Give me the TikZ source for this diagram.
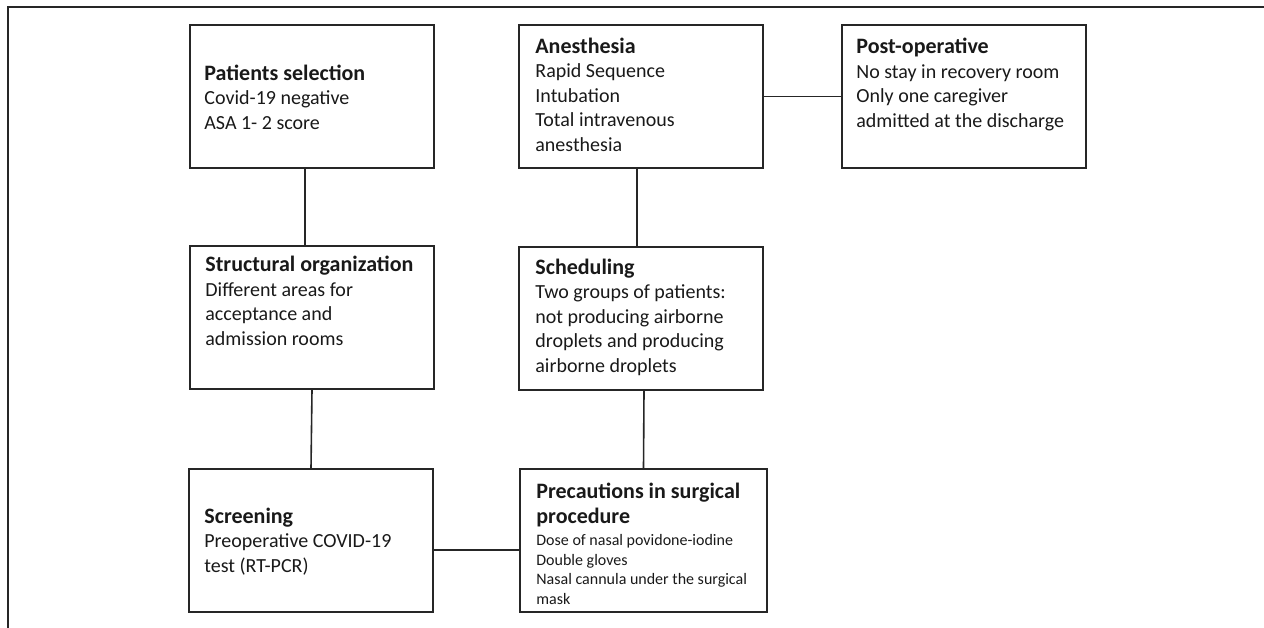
\documentclass[tikz,border=0pt]{standalone}
\usepackage{fontspec}
\setmainfont{Carlito}
\usetikzlibrary{positioning}
\tikzset{
  box/.style={draw=black!85, line width=1.6pt, minimum width=244pt, minimum height=143pt, inner sep=0pt},
  link/.style={draw=black!85, line width=1.6pt},
  txt/.style={anchor=base west, align=left, inner sep=0pt, text=black!90, font=\fontsize{20}{24.4}\selectfont},
  smalltxt/.style={txt, font=\fontsize{16}{19.5}\selectfont}
}
\newcommand{\head}[1]{{\fontsize{22}{24.4}\selectfont\bfseries #1}}

\begin{document}
\begin{tikzpicture}[x=1pt, y=-1pt]
\useasboundingbox (0,0) rectangle (1264,628);

% Draw the frame
\draw[link, line width=1.4pt] (8,628) -- (8,7) -- (1264,7);

% Define the boxes
\node[box] (sel) at (312,96.5) {};
\node[box] (anes) at (641,96.5) {};
\node[box] (post) at (964,96.5) {};
\node[box] (struct) at (312,317.5) {};
\node[box] (sched) at (641,318.5) {};
\node[box] (screen) at (311,540.5) {};
\node[box, minimum width=247pt] (prec) at (643.5,540.5) {};

% Write the texts inside the boxes (placed by the baseline of their last line)
\node[txt] (selT) at ([shift={(15,105)}]sel.north west)
  {\head{Patients selection}\\Covid-19 negative\\ASA 1- 2 score};
\node[txt] (anesT) at ([shift={(17,127)}]anes.north west)
  {\head{Anesthesia}\\Rapid Sequence\\Intubation\\Total intravenous\\anesthesia};
\node[txt] (postT) at ([shift={(15,103)}]post.north west)
  {\head{Post-operative}\\No stay in recovery room\\Only one caregiver\\admitted at the discharge};
\node[txt] (structT) at ([shift={(16,100)}]struct.north west)
  {\head{Structural organization}\\Different areas for\\acceptance and\\admission rooms};
\node[txt] (schedT) at ([shift={(17,126)}]sched.north west)
  {\head{Scheduling}\\Two groups of patients:\\not producing airborne\\droplets and producing\\airborne droplets};
\node[txt] (screenT) at ([shift={(16,104)}]screen.north west)
  {\head{Screening}\\Preoperative COVID-19\\test (RT-PCR)};
\node[smalltxt] (precT) at ([shift={(17,136)}]prec.north west)
  {\head{Precautions in surgical}\\[5.5pt]\head{procedure}\\[2.5pt]Dose of nasal povidone-iodine\\Double gloves\\Nasal cannula under the surgical\\mask};

% Draw the connectors
\draw[link] ([xshift=-7pt]sel.south) -- ([xshift=-7pt]struct.north);
\draw[link] (struct.south) -- (screen.north);
\draw[link] ([xshift=-4pt]anes.south) -- ([xshift=-4pt]sched.north);
\draw[link] ([xshift=3pt]sched.south) -- (prec.north);
\draw[link] (anes.east) -- (post.west);
\draw[link] ([yshift=-9.5pt]screen.east) -- ([yshift=-9.5pt]prec.west);
\end{tikzpicture}
\end{document}
